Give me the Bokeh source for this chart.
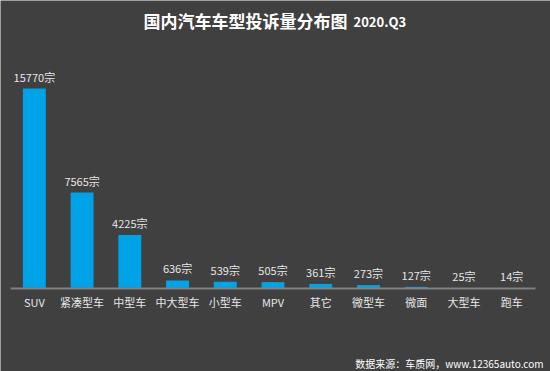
import numpy as np
from bokeh.plotting import figure
from bokeh.models import ColumnDataSource, Label, Range1d
from bokeh.embed import file_html
from bokeh.resources import INLINE
from bokeh.core.properties import value

categories = ["SUV", "紧凑型车", "中型车", "中大型车", "小型车", "MPV", "其它", "微型车", "微面", "大型车", "跑车"]
counts = [15770, 7565, 4225, 636, 539, 505, 361, 273, 127, 25, 14]
labels = [f"{c}宗" for c in counts]

BG = "#404040"
FONT = "Noto Sans CJK SC"

W, H = 550, 371
PX_X = 525 / len(categories)          # pixels per category slot
PX_Y = 200 / max(counts)              # pixels per unit of count
xs = np.arange(len(categories))

src = ColumnDataSource(dict(x=xs, cat=categories, val=counts, lab=labels))

p = figure(width=W, height=H,
           x_range=Range1d(-0.5 - 10 / PX_X, len(categories) - 0.5 + 15 / PX_X),
           y_range=Range1d(-83 / PX_Y, 288 / PX_Y),
           output_backend="svg", toolbar_location=None,
           x_axis_location=None, y_axis_location=None,
           min_border=0, min_border_left=0, min_border_right=0, min_border_top=0, min_border_bottom=0)
p.background_fill_color = BG
p.border_fill_color = BG
p.outline_line_color = None
p.grid.visible = False

p.vbar(x="x", top="val", width=0.48, source=src, color="#00A2E8", line_color=None)
p.text(x="x", y="val", text="lab", source=src, text_align="center", text_baseline="bottom",
       y_offset=-4, text_font=value(FONT), text_font_size="11px", text_color="#e6e6e6")
# baseline (axis line)
p.segment(x0=[xs[0] - 0.5], x1=[xs[-1] + 0.5], y0=[0], y1=[0], line_color="#7f7f7f", line_width=2)
# category labels
p.text(x="x", y=0, text="cat", source=src, text_align="center", text_baseline="top",
       y_offset=5, text_font=value(FONT), text_font_size="11px", text_color="#e6e6e6")

p.add_layout(Label(x=347, y=351, x_units="screen", y_units="screen", text="国内汽车车型投诉量分布图",
                   text_align="right", text_baseline="middle", text_font=FONT, text_font_size="17px",
                   text_font_style="bold", text_color="white"))
p.add_layout(Label(x=353, y=350, x_units="screen", y_units="screen", text="2020.Q3",
                   text_align="left", text_baseline="middle", text_font=FONT, text_font_size="13px",
                   text_font_style="bold", text_color="white"))
p.add_layout(Label(x=543, y=8, x_units="screen", y_units="screen", text="数据来源：车质网，www.12365auto.com",
                   text_align="right", text_baseline="middle", text_font=FONT, text_font_size="10px",
                   text_color="white"))

html = file_html(p, INLINE)
html = html.replace("<body>", f'<body style="background:{BG};">', 1)
open("out.html", "w").write(html)
